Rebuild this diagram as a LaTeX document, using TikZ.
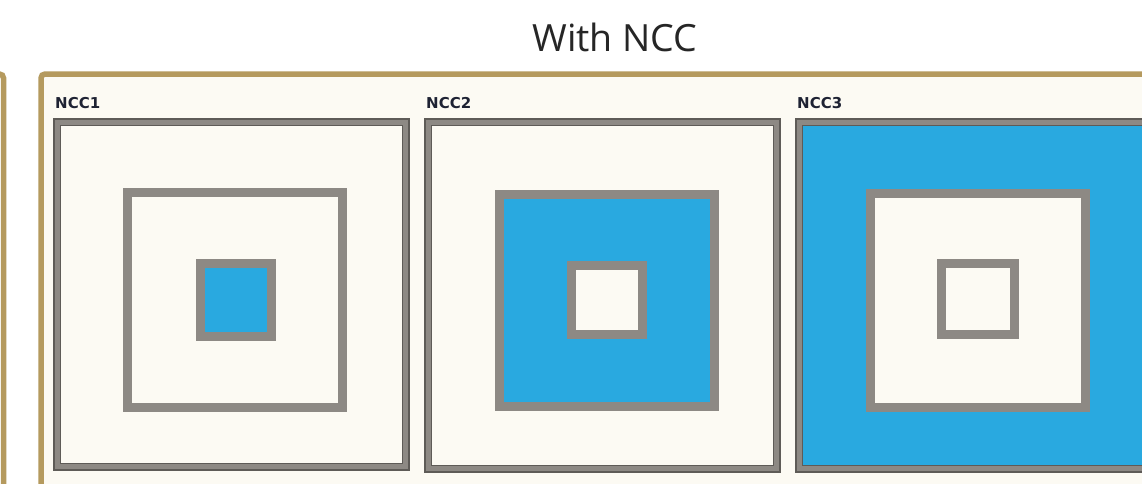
\documentclass[tikz,border=0pt]{standalone}
\usepackage{fontspec}
\setmainfont{Open Sans}
\newfontfamily\lblfont{DejaVu Sans}
\definecolor{tan}{HTML}{B59A5E}
\definecolor{cream}{HTML}{FCFAF3}
\definecolor{ringgray}{HTML}{8D8984}
\definecolor{darkgray}{HTML}{5E5B57}
\definecolor{skyblue}{HTML}{29A9E0}
\definecolor{lbl}{HTML}{1E2233}
\tikzset{
  frameline/.style={draw=tan, line width=5.5pt, rounded corners=4pt},
  ringline/.style={draw=ringgray, line width=9pt},
  panelmid/.style={draw=ringgray, line width=6pt},
  paneledge/.style={draw=darkgray, line width=1.6pt},
  panellabel/.style={font=\lblfont\bfseries\fontsize{15}{16}\selectfont, text=lbl, anchor=base west, inner sep=0pt},
  titletext/.style={font=\fontsize{37.5}{40}\selectfont, text=black!85, anchor=base, inner sep=0pt}
}
\begin{document}
\begin{tikzpicture}[x=1pt,y=-1pt]
\useasboundingbox (0,0) rectangle (1142,483);
\begin{scope}
\clip (0,0) rectangle (1142,483);
\fill[white] (0,0) rectangle (1142,483);
% left neighbouring frame edge
\draw[frameline] (-60,74) rectangle (3.5,500);
% main frame
\fill[cream] (41,74) rectangle (1160,489);
\draw[frameline] (41,74) rectangle (1160,489);
% panels
\foreach \L/\R/\B [count=\i] in {53/410/471, 424/781/473, 795/1152/473} {
  \ifnum\i=3
    \fill[skyblue] (\L,118) rectangle (\R,\B);
  \else
    \fill[cream] (\L,118) rectangle (\R,\B);
  \fi
  \draw[panelmid] (\L+4,122) rectangle (\R-4,\B-4);
  \draw[paneledge] (\L+0.8,118.8) rectangle (\R-0.8,\B-0.8);
  \draw[paneledge, line width=1pt] (\L+7.5,125.5) rectangle (\R-7.5,\B-7.5);
}
% panel 1
\draw[ringline, fill=cream] (127.5,192.5) rectangle (342.5,407.5);
\draw[ringline, fill=skyblue] (200.5,263.5) rectangle (271.5,336.5);
% panel 2
\draw[ringline, fill=skyblue] (499.5,194) rectangle (714.5,406.5);
\draw[ringline, fill=cream] (571.5,265.5) rectangle (642.5,334.5);
% panel 3
\draw[ringline, fill=cream] (870.5,193) rectangle (1085.5,407.5);
\draw[ringline, fill=cream] (941.5,263.5) rectangle (1014.5,334.5);
\end{scope}
% labels
\node[titletext] (title) at (615,51) {With NCC};
\node[panellabel] (l1) at (55,108) {NCC1};
\node[panellabel] (l2) at (426,108) {NCC2};
\node[panellabel] (l3) at (797,108) {NCC3};
\end{tikzpicture}
\end{document}
